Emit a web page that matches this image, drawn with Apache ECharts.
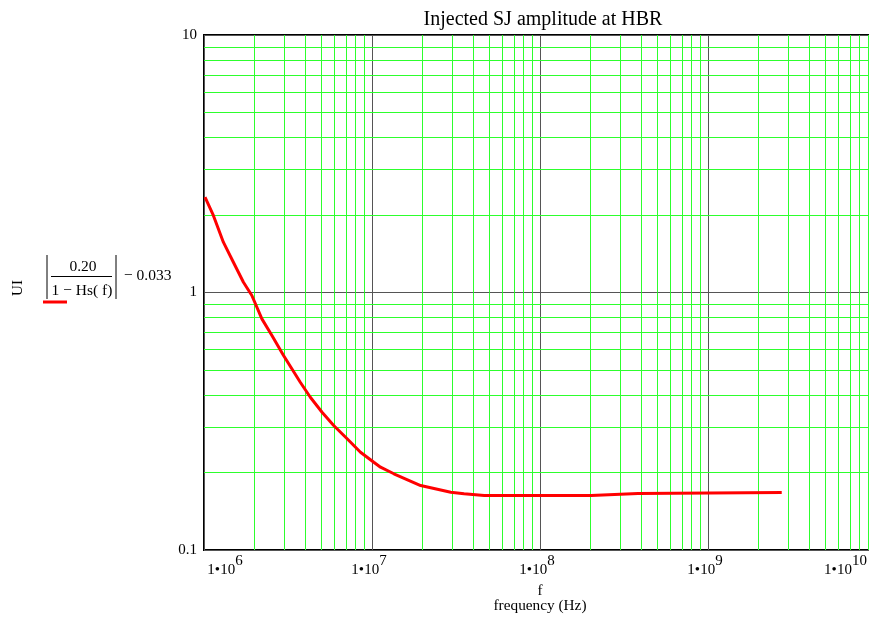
<!DOCTYPE html>
<html>
<head>
<meta charset="utf-8">
<script src="https://cdn.jsdelivr.net/npm/echarts@6/dist/echarts.min.js"></script>
<style>
  html, body { margin: 0; padding: 0; background: #fff; }
  #chart { width: 869px; height: 617px; }
</style>
</head>
<body>
<div id="chart"></div>
<script>
// frequency (Hz) and amplitude (UI)
var freq = [1.014e6, 1.137e6, 1.304e6, 1.496e6, 1.717e6, 1.927e6, 2.211e6, 2.537e6, 2.975e6,
            3.742e6, 4.294e6, 5.043e6, 5.916e6, 7.112e6, 8.54e6, 1.025e7, 1.124e7, 1.349e7,
            1.948e7, 2.943e7, 3.532e7, 4.651e7, 2.016e8, 2.063e8, 3.831e8, 3.917e8, 2.747e9];
var amp  = [2.345, 1.991, 1.568, 1.311, 1.096, 0.9735, 0.790, 0.681, 0.569,
            0.4483, 0.392, 0.3428, 0.3044, 0.2703, 0.2398, 0.2193, 0.2097, 0.1977,
            0.178, 0.1677, 0.1653, 0.1628, 0.1628, 0.1653, 0.1656, 0.1673, 0.1673];

var xDecades = [1e6, 1e7, 1e8, 1e9];
var yDecades = [0.1, 1];
var minorMults = [2, 3, 4, 5, 6, 7, 8, 9];
var yTickLabels = ['0.1', '1', '10'];

var serif = 'Liberation Serif';

var chart = echarts.init(document.getElementById('chart'));

var curve = [];
for (var i = 0; i < freq.length; i++) {
  curve.push([freq[i], amp[i]]);
}

// green minor grid (2..9 of each decade)
var minorLines = [];
xDecades.forEach(function (d) {
  minorMults.forEach(function (m) { minorLines.push({ xAxis: d * m }); });
});
yDecades.forEach(function (d) {
  minorMults.forEach(function (m) { minorLines.push({ yAxis: d * m }); });
});

var option = {
  animation: false,
  title: {
    text: 'Injected SJ amplitude at HBR',
    left: 538,
    textAlign: 'center',
    top: 5,
    textStyle: { fontFamily: serif, fontSize: 20, fontWeight: 'normal', color: '#000' }
  },
  grid: {
    left: 204,
    top: 35,
    right: -7,
    bottom: 67,
    outerBoundsMode: 'none',
    show: true,
    borderWidth: 2,
    borderColor: '#000',
    backgroundColor: 'transparent'
  },
  xAxis: {
    type: 'log',
    logBase: 10,
    min: 1e6,
    max: 1e10,
    axisLine: { show: false },
    axisTick: { show: false },
    splitLine: { show: true, lineStyle: { color: '#555', width: 1 } },
    axisLabel: {
      margin: 4,
      color: '#000',
      fontFamily: serif,
      fontSize: 15,
      formatter: function (v) {
        var e = Math.round(Math.log10(v));
        if (e === 6) return '{first|1\u202210}{s|' + e + '}';
        if (e === 10) return '{mid|1\u202210}{last|' + e + '}';
        return '{mid|1\u202210}{s|' + e + '}';
      },
      rich: {
        first: { fontFamily: serif, fontSize: 15, color: '#000', padding: [0, 0, 0, 48] },
        mid: { fontFamily: serif, fontSize: 15, color: '#000', padding: [0, 0, 0, 0] },
        s: { fontFamily: serif, fontSize: 15, color: '#000', padding: [0, 6, 18, 0] },
        last: { fontFamily: serif, fontSize: 15, color: '#000', padding: [0, 61, 18, 0] }
      }
    }
  },
  yAxis: {
    type: 'log',
    logBase: 10,
    min: 0.1,
    max: 10,
    axisLine: { show: false },
    axisTick: { show: false },
    splitLine: { show: true, lineStyle: { color: '#555', width: 1 } },
    axisLabel: {
      margin: 7,
      color: '#000',
      fontFamily: serif,
      fontSize: 15,
      formatter: function (v) {
        return v < 0.5 ? yTickLabels[0] : (v < 5 ? yTickLabels[1] : yTickLabels[2]);
      }
    }
  },
  series: [
    {
      type: 'line',
      data: [],
      z: 1,
      silent: true,
      markLine: {
        silent: true,
        symbol: 'none',
        label: { show: false },
        lineStyle: { color: '#2dff2d', width: 1, type: 'solid' },
        emphasis: { disabled: true },
        animation: false,
        data: minorLines
      }
    },
    {
      type: 'line',
      data: curve,
      z: 5,
      symbol: 'none',
      lineStyle: { color: '#ff0000', width: 3 },
      itemStyle: { color: '#ff0000' }
    }
  ],
  graphic: [
    { type: 'text', x: 18, y: 288, rotation: Math.PI / 2,
      style: { text: 'UI', font: '15px ' + serif, fill: '#000', align: 'center', verticalAlign: 'middle' } },
    { type: 'line', shape: { x1: 47, y1: 255, x2: 47, y2: 299 }, style: { stroke: '#000', lineWidth: 1 } },
    { type: 'line', shape: { x1: 116, y1: 255, x2: 116, y2: 299 }, style: { stroke: '#000', lineWidth: 1 } },
    { type: 'line', shape: { x1: 51, y1: 276.5, x2: 112, y2: 276.5 }, style: { stroke: '#000', lineWidth: 1 } },
    { type: 'text', x: 83, y: 267,
      style: { text: '0.20', font: '15.5px ' + serif, fill: '#000', align: 'center', verticalAlign: 'middle' } },
    { type: 'text', x: 82, y: 291,
      style: { text: '1 \u2212 Hs( f)', font: '15.5px ' + serif, fill: '#000', align: 'center', verticalAlign: 'middle' } },
    { type: 'text', x: 124, y: 276,
      style: { text: '\u2212 0.033', font: '15.5px ' + serif, fill: '#000', align: 'left', verticalAlign: 'middle' } },
    { type: 'line', shape: { x1: 43, y1: 302, x2: 67, y2: 302 }, style: { stroke: '#ff0000', lineWidth: 3 } },
    { type: 'text', x: 540, y: 591,
      style: { text: 'f', font: '15px ' + serif, fill: '#000', align: 'center', verticalAlign: 'middle' } },
    { type: 'text', x: 540, y: 606,
      style: { text: 'frequency (Hz)', font: '15.3px ' + serif, fill: '#000', align: 'center', verticalAlign: 'middle' } }
  ]
};

chart.setOption(option);
</script>
</body>
</html>
